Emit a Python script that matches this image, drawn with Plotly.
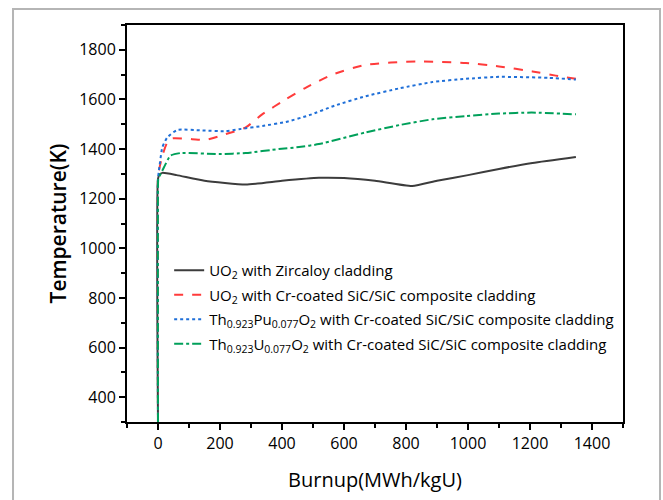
import plotly.graph_objects as go

burnup_uo2_zr = [0, 0, 5, 14, 60, 150, 283, 400, 519, 600, 700, 820, 900, 1000, 1100, 1208, 1348]
temp_uo2_zr = [300, 1280, 1298, 1304, 1295, 1272, 1257, 1272, 1284, 1283, 1272, 1251, 1272, 1295, 1320, 1344, 1368]

burnup_uo2_sic = [0, 0, 3, 14, 30, 46, 110, 154, 218, 283, 336, 412, 476, 562, 670, 832, 993, 1100, 1208, 1283, 1348]
temp_uo2_sic = [300, 1280, 1313, 1373, 1427, 1443, 1440, 1437, 1460, 1487, 1540, 1600, 1647, 1700, 1740, 1753, 1747, 1733, 1713, 1696, 1683]

burnup_thpu = [0, 0, 3, 14, 30, 62, 143, 218, 261, 337, 412, 487, 570, 670, 780, 885, 993, 1100, 1261, 1348]
temp_thpu = [300, 1280, 1313, 1407, 1447, 1477, 1475, 1472, 1480, 1493, 1509, 1536, 1575, 1613, 1645, 1670, 1683, 1691, 1687, 1680]

burnup_thu = [0, 0, 1, 14, 40, 73, 197, 283, 390, 455, 519, 670, 780, 885, 993, 1100, 1206, 1348]
temp_thu = [300, 1260, 1280, 1313, 1373, 1384, 1380, 1384, 1400, 1408, 1420, 1467, 1497, 1520, 1533, 1543, 1547, 1540]

names = [
    "UO<sub>2</sub> with Zircaloy cladding",
    "UO<sub>2</sub> with Cr-coated SiC/SiC composite cladding",
    "Th<sub>0.923</sub>Pu<sub>0.077</sub>O<sub>2</sub> with Cr-coated SiC/SiC composite cladding",
    "Th<sub>0.923</sub>U<sub>0.077</sub>O<sub>2</sub> with Cr-coated SiC/SiC composite cladding",
]
colors = ["#3c3c3c", "#ff3b3b", "#1f6fd8", "#00a05a"]
dashes = ["solid", "dash", "dot", "dashdot"]
series = [(burnup_uo2_zr, temp_uo2_zr), (burnup_uo2_sic, temp_uo2_sic),
          (burnup_thpu, temp_thpu), (burnup_thu, temp_thu)]

fig = go.Figure()
for i, ((xs, ys), n, c, d) in enumerate(zip(series, names, colors, dashes)):
    fig.add_trace(go.Scatter(x=xs, y=ys, name=n, mode="lines", legendgroup=f"g{i}",
                             line=dict(color=c, dash=d, width=2, shape="spline", smoothing=0.5)))

font_family = "Open Sans, Noto Sans, sans-serif"
axis_common = dict(showline=True, linecolor="black", linewidth=2, mirror=True,
                   ticks="outside", ticklen=6, tickwidth=1.5, tickcolor="black",
                   showgrid=False, zeroline=False,
                   tickfont=dict(size=16, color="black", family=font_family))

fig.update_xaxes(range=[-100, 1500], tickvals=[0, 200, 400, 600, 800, 1000, 1200, 1400],
                 minor=dict(ticks="outside", ticklen=4, tickwidth=1.5, tickcolor="black", dtick=100, tick0=0),
                 title=dict(text="Burnup(MWh/kgU)", font=dict(size=20, color="black", family=font_family), standoff=20),
                 **axis_common)
fig.update_yaxes(range=[300, 1900], tickvals=[400, 600, 800, 1000, 1200, 1400, 1600, 1800],
                 minor=dict(ticks="outside", ticklen=4, tickwidth=1.5, tickcolor="black", dtick=100, tick0=0),
                 title=dict(text="Temperature(K)", font=dict(size=21, color="black", family=font_family, weight=600), standoff=7),
                 **axis_common)

fig.add_shape(type="rect", xref="paper", yref="paper",
              x0=-0.2298, x1=1.0746, y0=-0.25, y1=1.04,
              line=dict(color="#b5b5b5", width=2), layer="below")

fig.update_layout(
    width=663, height=500,
    margin=dict(l=127, r=40, t=25, b=75),
    paper_bgcolor="white", plot_bgcolor="white",
    font=dict(family=font_family, color="black"),
    legend=dict(x=0.085, y=0.423, xanchor="left", yanchor="top",
                bgcolor="rgba(0,0,0,0)", font=dict(size=15, color="black", family=font_family),
                tracegroupgap=2, itemwidth=30),
    showlegend=True,
)

fig.write_html("out.html")
